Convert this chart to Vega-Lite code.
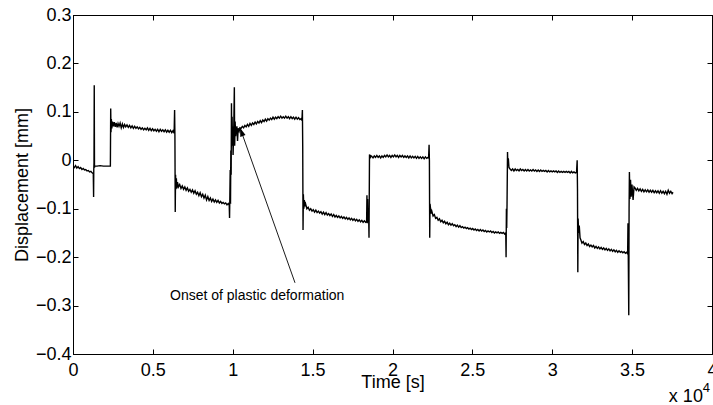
{
  "$schema": "https://vega.github.io/schema/vega-lite/v6.json",
  "width": 639,
  "height": 339,
  "autosize": {"type": "none"},
  "padding": {"left": 73, "top": 15, "right": 1, "bottom": 51},
  "background": "white",
  "config": {
    "view": {"stroke": "black", "strokeWidth": 1},
    "font": "Liberation Sans",
    "axis": {
      "domainColor": "black", "domainWidth": 1, "tickColor": "black", "tickWidth": 1,
      "tickSize": -5, "grid": false, "labelFont": "Liberation Sans", "labelFontSize": 18,
      "labelColor": "black", "labelOverlap": false, "labelFlush": false,
      "titleFont": "Liberation Sans", "titleFontSize": 18, "titleFontWeight": "normal", "titleColor": "black"
    }
  },
  "datasets": {
    "sig": [
      {"t":0,"v":-0.012},{"t":80,"v":-0.015},{"t":160,"v":-0.011},{"t":240,"v":-0.016},{"t":320,"v":-0.013},{"t":400,"v":-0.017},{"t":480,"v":-0.015},{"t":560,"v":-0.019},{"t":640,"v":-0.017},{"t":720,"v":-0.02},{"t":800,"v":-0.019},{"t":880,"v":-0.022},{"t":960,"v":-0.021},{"t":1040,"v":-0.024},{"t":1120,"v":-0.023},{"t":1200,"v":-0.026},{"t":1270,"v":-0.028},
      {"t":1290,"v":-0.076},{"t":1300,"v":-0.02},{"t":1315,"v":-0.005},{"t":1330,"v":0.155},{"t":1345,"v":-0.015},{"t":1360,"v":-0.012},
      {"t":1500,"v":-0.012},{"t":1700,"v":-0.011},{"t":1900,"v":-0.012},{"t":2100,"v":-0.012},{"t":2340,"v":-0.012},
      {"t":2360,"v":0.107},{"t":2380,"v":0.058},{"t":2400,"v":0.085},{"t":2430,"v":0.066},{"t":2470,"v":0.08},{"t":2520,"v":0.07},{"t":2580,"v":0.079},{"t":2640,"v":0.069},{"t":2700,"v":0.077},{"t":2760,"v":0.068},{"t":2820,"v":0.076},{"t":2880,"v":0.07},{"t":2950,"v":0.077},{"t":3020,"v":0.067},{"t":3090,"v":0.075},{"t":3160,"v":0.068},{"t":3230,"v":0.074},{"t":3300,"v":0.069},{"t":3380,"v":0.073},{"t":3460,"v":0.068},{"t":3540,"v":0.072},{"t":3620,"v":0.067},{"t":3700,"v":0.071},{"t":3780,"v":0.066},{"t":3860,"v":0.07},{"t":3940,"v":0.066},{"t":4020,"v":0.069},{"t":4100,"v":0.065},{"t":4180,"v":0.068},{"t":4260,"v":0.064},{"t":4340,"v":0.067},{"t":4420,"v":0.063},{"t":4500,"v":0.066},{"t":4580,"v":0.063},{"t":4660,"v":0.067},{"t":4740,"v":0.062},{"t":4820,"v":0.066},{"t":4900,"v":0.061},{"t":4980,"v":0.065},{"t":5060,"v":0.061},{"t":5140,"v":0.064},{"t":5220,"v":0.06},{"t":5300,"v":0.064},{"t":5380,"v":0.059},{"t":5460,"v":0.064},{"t":5540,"v":0.06},{"t":5620,"v":0.063},{"t":5700,"v":0.059},{"t":5780,"v":0.063},{"t":5860,"v":0.058},{"t":5940,"v":0.062},{"t":6020,"v":0.058},{"t":6100,"v":0.062},{"t":6180,"v":0.057},{"t":6260,"v":0.061},{"t":6330,"v":0.056},
      {"t":6360,"v":0.104},{"t":6380,"v":0.05},{"t":6400,"v":-0.107},{"t":6420,"v":-0.03},{"t":6440,"v":-0.06},{"t":6470,"v":-0.037},{"t":6500,"v":-0.058},{"t":6540,"v":-0.045},
      {"t":6600,"v":-0.055},{"t":6680,"v":-0.05},{"t":6760,"v":-0.058},{"t":6840,"v":-0.053},{"t":6920,"v":-0.06},{"t":7000,"v":-0.055},{"t":7080,"v":-0.062},{"t":7160,"v":-0.057},{"t":7240,"v":-0.064},{"t":7320,"v":-0.06},{"t":7400,"v":-0.066},{"t":7480,"v":-0.061},{"t":7560,"v":-0.068},{"t":7640,"v":-0.063},{"t":7720,"v":-0.07},{"t":7800,"v":-0.066},{"t":7880,"v":-0.073},{"t":7960,"v":-0.067},{"t":8040,"v":-0.075},{"t":8120,"v":-0.07},{"t":8200,"v":-0.078},{"t":8280,"v":-0.072},{"t":8360,"v":-0.082},{"t":8440,"v":-0.075},{"t":8520,"v":-0.083},{"t":8600,"v":-0.078},{"t":8680,"v":-0.085},{"t":8760,"v":-0.08},{"t":8840,"v":-0.086},{"t":8920,"v":-0.082},{"t":9000,"v":-0.087},{"t":9080,"v":-0.083},{"t":9160,"v":-0.088},{"t":9240,"v":-0.085},{"t":9320,"v":-0.089},{"t":9400,"v":-0.087},{"t":9480,"v":-0.09},{"t":9560,"v":-0.088},{"t":9640,"v":-0.092},{"t":9720,"v":-0.089},{"t":9780,"v":-0.093},
      {"t":9800,"v":-0.119},{"t":9820,"v":-0.07},{"t":9840,"v":-0.02},{"t":9860,"v":-0.09},{"t":9880,"v":0.02},{"t":9900,"v":-0.03},{"t":9920,"v":0.118},{"t":9940,"v":0.03},{"t":9960,"v":0.09},{"t":9980,"v":0.04},{"t":10000,"v":0.07},{"t":10020,"v":0.011},{"t":10060,"v":0.06},{"t":10100,"v":0.151},{"t":10120,"v":0.03},{"t":10150,"v":0.08},{"t":10180,"v":0.05},{"t":10220,"v":0.065},{"t":10260,"v":0.07},{"t":10300,"v":0.04},{"t":10340,"v":0.066},{"t":10400,"v":0.06},{"t":10450,"v":0.067},
      {"t":10520,"v":0.066},{"t":10600,"v":0.07},{"t":10680,"v":0.067},{"t":10760,"v":0.072},{"t":10840,"v":0.069},{"t":10920,"v":0.074},{"t":11000,"v":0.07},{"t":11080,"v":0.076},{"t":11160,"v":0.072},{"t":11240,"v":0.077},{"t":11320,"v":0.074},{"t":11400,"v":0.079},{"t":11480,"v":0.075},{"t":11560,"v":0.08},{"t":11640,"v":0.077},{"t":11720,"v":0.082},{"t":11800,"v":0.078},{"t":11880,"v":0.083},{"t":11960,"v":0.08},{"t":12040,"v":0.085},{"t":12120,"v":0.081},{"t":12200,"v":0.086},{"t":12280,"v":0.083},{"t":12360,"v":0.087},{"t":12440,"v":0.084},{"t":12520,"v":0.089},{"t":12600,"v":0.085},{"t":12680,"v":0.089},{"t":12760,"v":0.086},{"t":12840,"v":0.09},{"t":12920,"v":0.087},{"t":13000,"v":0.091},{"t":13080,"v":0.087},{"t":13160,"v":0.09},{"t":13240,"v":0.087},{"t":13320,"v":0.091},{"t":13400,"v":0.087},{"t":13480,"v":0.09},{"t":13560,"v":0.086},{"t":13640,"v":0.09},{"t":13720,"v":0.086},{"t":13800,"v":0.089},{"t":13880,"v":0.085},{"t":13960,"v":0.089},{"t":14040,"v":0.085},{"t":14120,"v":0.088},{"t":14200,"v":0.084},{"t":14280,"v":0.086},{"t":14330,"v":0.082},
      {"t":14360,"v":0.104},{"t":14380,"v":0.03},{"t":14400,"v":-0.144},{"t":14420,"v":-0.07},{"t":14450,"v":-0.1},{"t":14480,"v":-0.082},{"t":14520,"v":-0.095},{"t":14560,"v":-0.09},
      {"t":14640,"v":-0.1},{"t":14720,"v":-0.097},{"t":14800,"v":-0.103},{"t":14880,"v":-0.1},{"t":14960,"v":-0.105},{"t":15040,"v":-0.102},{"t":15120,"v":-0.107},{"t":15200,"v":-0.103},{"t":15280,"v":-0.108},{"t":15360,"v":-0.105},{"t":15440,"v":-0.109},{"t":15520,"v":-0.106},{"t":15600,"v":-0.111},{"t":15680,"v":-0.107},{"t":15760,"v":-0.112},{"t":15840,"v":-0.108},{"t":15920,"v":-0.113},{"t":16000,"v":-0.11},{"t":16080,"v":-0.114},{"t":16160,"v":-0.111},{"t":16240,"v":-0.116},{"t":16320,"v":-0.112},{"t":16400,"v":-0.117},{"t":16480,"v":-0.114},{"t":16560,"v":-0.118},{"t":16640,"v":-0.115},{"t":16720,"v":-0.119},{"t":16800,"v":-0.116},{"t":16880,"v":-0.12},{"t":16960,"v":-0.117},{"t":17040,"v":-0.121},{"t":17120,"v":-0.118},{"t":17200,"v":-0.122},{"t":17280,"v":-0.119},{"t":17360,"v":-0.123},{"t":17440,"v":-0.12},{"t":17520,"v":-0.124},{"t":17600,"v":-0.121},{"t":17680,"v":-0.125},{"t":17760,"v":-0.122},{"t":17840,"v":-0.126},{"t":17920,"v":-0.123},{"t":18000,"v":-0.127},{"t":18080,"v":-0.124},{"t":18160,"v":-0.128},{"t":18240,"v":-0.125},{"t":18320,"v":-0.128},{"t":18380,"v":-0.127},
      {"t":18400,"v":-0.072},{"t":18420,"v":-0.13},{"t":18440,"v":-0.08},{"t":18470,"v":-0.128},{"t":18500,"v":-0.1},{"t":18530,"v":-0.16},{"t":18560,"v":0.012},{"t":18600,"v":0.004},{"t":18650,"v":0.009},
      {"t":18700,"v":0.008},{"t":18780,"v":0.005},{"t":18860,"v":0.009},{"t":18940,"v":0.006},{"t":19020,"v":0.01},{"t":19100,"v":0.006},{"t":19180,"v":0.009},{"t":19260,"v":0.005},{"t":19340,"v":0.009},{"t":19420,"v":0.006},{"t":19500,"v":0.01},{"t":19580,"v":0.007},{"t":19660,"v":0.011},{"t":19740,"v":0.007},{"t":19820,"v":0.01},{"t":19900,"v":0.006},{"t":19980,"v":0.01},{"t":20060,"v":0.007},{"t":20140,"v":0.011},{"t":20220,"v":0.007},{"t":20300,"v":0.01},{"t":20380,"v":0.006},{"t":20460,"v":0.01},{"t":20540,"v":0.007},{"t":20620,"v":0.01},{"t":20700,"v":0.006},{"t":20780,"v":0.009},{"t":20860,"v":0.006},{"t":20940,"v":0.009},{"t":21020,"v":0.005},{"t":21100,"v":0.009},{"t":21180,"v":0.005},{"t":21260,"v":0.008},{"t":21340,"v":0.005},{"t":21420,"v":0.008},{"t":21500,"v":0.004},{"t":21580,"v":0.008},{"t":21660,"v":0.004},{"t":21740,"v":0.007},{"t":21820,"v":0.004},{"t":21900,"v":0.007},{"t":21980,"v":0.003},{"t":22060,"v":0.007},{"t":22140,"v":0.004},{"t":22220,"v":0.006},{"t":22260,"v":0.005},
      {"t":22290,"v":0.032},{"t":22310,"v":0.0},{"t":22330,"v":-0.16},{"t":22350,"v":-0.09},{"t":22380,"v":-0.099},{"t":22420,"v":-0.11},{"t":22460,"v":-0.105},
      {"t":22540,"v":-0.115},{"t":22620,"v":-0.112},{"t":22700,"v":-0.12},{"t":22780,"v":-0.118},{"t":22860,"v":-0.124},{"t":22940,"v":-0.121},{"t":23020,"v":-0.127},{"t":23100,"v":-0.124},{"t":23180,"v":-0.129},{"t":23260,"v":-0.126},{"t":23340,"v":-0.131},{"t":23420,"v":-0.128},{"t":23500,"v":-0.133},{"t":23580,"v":-0.13},{"t":23660,"v":-0.134},{"t":23740,"v":-0.131},{"t":23820,"v":-0.135},{"t":23900,"v":-0.133},{"t":23980,"v":-0.137},{"t":24060,"v":-0.134},{"t":24140,"v":-0.138},{"t":24220,"v":-0.135},{"t":24300,"v":-0.139},{"t":24380,"v":-0.137},{"t":24460,"v":-0.14},{"t":24540,"v":-0.138},{"t":24620,"v":-0.141},{"t":24700,"v":-0.139},{"t":24780,"v":-0.142},{"t":24860,"v":-0.14},{"t":24940,"v":-0.143},{"t":25020,"v":-0.141},{"t":25100,"v":-0.144},{"t":25180,"v":-0.142},{"t":25260,"v":-0.145},{"t":25340,"v":-0.143},{"t":25420,"v":-0.146},{"t":25500,"v":-0.143},{"t":25580,"v":-0.146},{"t":25660,"v":-0.144},{"t":25740,"v":-0.147},{"t":25820,"v":-0.145},{"t":25900,"v":-0.148},{"t":25980,"v":-0.146},{"t":26060,"v":-0.148},{"t":26140,"v":-0.146},{"t":26220,"v":-0.149},{"t":26300,"v":-0.147},{"t":26380,"v":-0.15},{"t":26460,"v":-0.148},{"t":26540,"v":-0.15},{"t":26620,"v":-0.148},{"t":26700,"v":-0.151},{"t":26780,"v":-0.149},{"t":26860,"v":-0.151},{"t":26940,"v":-0.149},{"t":27020,"v":-0.152},{"t":27090,"v":-0.15},
      {"t":27110,"v":-0.2},{"t":27130,"v":-0.1},{"t":27150,"v":-0.14},{"t":27170,"v":-0.09},{"t":27200,"v":0.017},{"t":27220,"v":-0.01},{"t":27250,"v":0.004},{"t":27290,"v":-0.015},
      {"t":27360,"v":-0.018},{"t":27440,"v":-0.021},{"t":27520,"v":-0.018},{"t":27600,"v":-0.022},{"t":27680,"v":-0.018},{"t":27760,"v":-0.021},{"t":27840,"v":-0.019},{"t":27920,"v":-0.022},{"t":28000,"v":-0.018},{"t":28080,"v":-0.021},{"t":28160,"v":-0.019},{"t":28240,"v":-0.022},{"t":28320,"v":-0.019},{"t":28400,"v":-0.022},{"t":28480,"v":-0.019},{"t":28560,"v":-0.022},{"t":28640,"v":-0.02},{"t":28720,"v":-0.022},{"t":28800,"v":-0.019},{"t":28880,"v":-0.022},{"t":28960,"v":-0.02},{"t":29040,"v":-0.023},{"t":29120,"v":-0.02},{"t":29200,"v":-0.023},{"t":29280,"v":-0.02},{"t":29360,"v":-0.023},{"t":29440,"v":-0.021},{"t":29520,"v":-0.023},{"t":29600,"v":-0.021},{"t":29680,"v":-0.024},{"t":29760,"v":-0.021},{"t":29840,"v":-0.024},{"t":29920,"v":-0.022},{"t":30000,"v":-0.024},{"t":30080,"v":-0.022},{"t":30160,"v":-0.024},{"t":30240,"v":-0.022},{"t":30320,"v":-0.025},{"t":30400,"v":-0.022},{"t":30480,"v":-0.025},{"t":30560,"v":-0.023},{"t":30640,"v":-0.025},{"t":30720,"v":-0.023},{"t":30800,"v":-0.025},{"t":30880,"v":-0.023},{"t":30960,"v":-0.025},{"t":31040,"v":-0.023},{"t":31120,"v":-0.026},{"t":31200,"v":-0.023},{"t":31280,"v":-0.026},{"t":31360,"v":-0.024},{"t":31440,"v":-0.026},{"t":31520,"v":-0.025},
      {"t":31560,"v":0.0},{"t":31580,"v":-0.06},{"t":31600,"v":-0.231},{"t":31620,"v":-0.12},{"t":31650,"v":-0.15},{"t":31690,"v":-0.135},{"t":31740,"v":-0.16},{"t":31800,"v":-0.165},{"t":31860,"v":-0.171},
      {"t":31940,"v":-0.168},{"t":32020,"v":-0.174},{"t":32100,"v":-0.171},{"t":32180,"v":-0.176},{"t":32260,"v":-0.173},{"t":32340,"v":-0.178},{"t":32420,"v":-0.175},{"t":32500,"v":-0.179},{"t":32580,"v":-0.176},{"t":32660,"v":-0.181},{"t":32740,"v":-0.178},{"t":32820,"v":-0.182},{"t":32900,"v":-0.179},{"t":32980,"v":-0.183},{"t":33060,"v":-0.18},{"t":33140,"v":-0.184},{"t":33220,"v":-0.181},{"t":33300,"v":-0.185},{"t":33380,"v":-0.182},{"t":33460,"v":-0.186},{"t":33540,"v":-0.183},{"t":33620,"v":-0.187},{"t":33700,"v":-0.184},{"t":33780,"v":-0.188},{"t":33860,"v":-0.185},{"t":33940,"v":-0.189},{"t":34020,"v":-0.186},{"t":34100,"v":-0.19},{"t":34180,"v":-0.187},{"t":34260,"v":-0.19},{"t":34340,"v":-0.188},{"t":34420,"v":-0.191},{"t":34500,"v":-0.189},{"t":34580,"v":-0.192},{"t":34660,"v":-0.19},{"t":34720,"v":-0.193},
      {"t":34740,"v":-0.13},{"t":34760,"v":-0.2},{"t":34790,"v":-0.32},{"t":34810,"v":-0.1},{"t":34830,"v":-0.024},{"t":34860,"v":-0.08},{"t":34900,"v":-0.04},{"t":34940,"v":-0.075},{"t":34990,"v":-0.05},{"t":35060,"v":-0.082},{"t":35120,"v":-0.055},{"t":35180,"v":-0.057},
      {"t":35260,"v":-0.062},{"t":35340,"v":-0.058},{"t":35420,"v":-0.063},{"t":35500,"v":-0.059},{"t":35580,"v":-0.064},{"t":35660,"v":-0.06},{"t":35740,"v":-0.065},{"t":35820,"v":-0.061},{"t":35900,"v":-0.065},{"t":35980,"v":-0.061},{"t":36060,"v":-0.066},{"t":36140,"v":-0.062},{"t":36220,"v":-0.066},{"t":36300,"v":-0.062},{"t":36380,"v":-0.067},{"t":36460,"v":-0.063},{"t":36540,"v":-0.067},{"t":36620,"v":-0.063},{"t":36700,"v":-0.068},{"t":36780,"v":-0.063},{"t":36860,"v":-0.068},{"t":36940,"v":-0.064},{"t":37020,"v":-0.069},{"t":37100,"v":-0.064},{"t":37180,"v":-0.07},{"t":37260,"v":-0.062},{"t":37340,"v":-0.068},{"t":37420,"v":-0.064},{"t":37500,"v":-0.069},{"t":37560,"v":-0.066}
    ],
    "arrow": [{"t": 13897, "v": -0.253, "t2": 10454, "v2": 0.067}],
    "note": [{"t": 6072, "v": -0.28, "label": "Onset of plastic deformation"}],
    "mult": [{"t": 37300, "v": -0.4, "label": "x 10", "sup": "4"}]
  },
  "layer": [
    {
      "data": {"name": "sig"},
      "mark": {"type": "line", "color": "black", "strokeWidth": 1.4, "clip": true},
      "encoding": {
        "x": {"field": "t", "type": "quantitative", "scale": {"domain": [0, 40000], "nice": false, "zero": false},
              "axis": {"orient": "bottom", "values": [0,5000,10000,15000,20000,25000,30000,35000,40000],
                       "labelExpr": "'' + datum.value/10000", "labelPadding": 12, "title": "Time [s]", "titlePadding": -6}},
        "y": {"field": "v", "type": "quantitative", "scale": {"domain": [-0.4, 0.3], "nice": false, "zero": false},
              "axis": {"orient": "left", "values": [-0.4,-0.3,-0.2,-0.1,0,0.1,0.2,0.3],
                       "labelExpr": "datum.value == 0 ? '0' : format(datum.value, '.1f')", "labelPadding": 7,
                       "title": "Displacement [mm]", "titlePadding": 4}}
      }
    },
    {
      "data": {"name": "arrow"},
      "mark": {"type": "rule", "color": "black", "strokeWidth": 0.9},
      "encoding": {
        "x": {"field": "t", "type": "quantitative", "axis": {"orient": "top", "values": [0,5000,10000,15000,20000,25000,30000,35000,40000], "labels": false, "title": null}},
        "y": {"field": "v", "type": "quantitative", "axis": {"orient": "right", "values": [-0.4,-0.3,-0.2,-0.1,0,0.1,0.2,0.3], "labels": false, "title": null}},
        "x2": {"field": "t2"},
        "y2": {"field": "v2"}
      }
    },
    {
      "data": {"name": "arrow"},
      "mark": {"type": "point", "shape": "M0,0L-0.32,1L0.32,1Z", "filled": true, "color": "black", "size": 300, "angle": 340.5, "opacity": 1},
      "encoding": {
        "x": {"field": "t2", "type": "quantitative", "axis": null},
        "y": {"field": "v2", "type": "quantitative", "axis": null}
      }
    },
    {
      "data": {"name": "note"},
      "mark": {"type": "text", "align": "left", "baseline": "middle", "fontSize": 14, "font": "Liberation Sans", "color": "black"},
      "encoding": {
        "x": {"field": "t", "type": "quantitative", "axis": null},
        "y": {"field": "v", "type": "quantitative", "axis": null},
        "text": {"field": "label"}
      }
    },
    {
      "data": {"name": "mult"},
      "mark": {"type": "text", "align": "left", "baseline": "alphabetic", "fontSize": 18, "font": "Liberation Sans", "color": "black", "dy": 48},
      "encoding": {
        "x": {"field": "t", "type": "quantitative", "axis": null},
        "y": {"field": "v", "type": "quantitative", "axis": null},
        "text": {"field": "label"}
      }
    },
    {
      "data": {"name": "mult"},
      "mark": {"type": "text", "align": "left", "baseline": "alphabetic", "fontSize": 13, "font": "Liberation Sans", "color": "black", "dy": 38, "dx": 34},
      "encoding": {
        "x": {"field": "t", "type": "quantitative", "axis": null},
        "y": {"field": "v", "type": "quantitative", "axis": null},
        "text": {"field": "sup"}
      }
    }
  ],
  "resolve": {"axis": {"x": "independent", "y": "independent"}}
}
